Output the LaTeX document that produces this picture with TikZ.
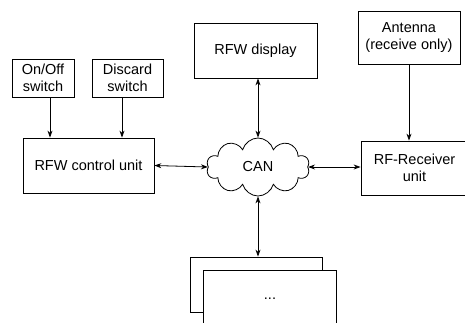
\documentclass[tikz,border=0pt]{standalone}
\usepackage{fontspec}
\setmainfont{Liberation Sans}
\usepackage{tikz}
\usetikzlibrary{shapes,arrows.meta,positioning}

\begin{document}
\begin{tikzpicture}[
    x=1pt, y=-1pt,
    font=\fontsize{14.5}{16.5}\selectfont,
    box/.style={draw, line width=0.8pt, align=center, text centered, inner sep=2pt},
    arrow/.style={line width=0.8pt,->,>={Stealth[length=7pt,width=5pt]}},
    biarrow/.style={line width=0.8pt,<->,>={Stealth[length=7pt,width=5pt]}}
]
\useasboundingbox (0,0) rectangle (465,322);
\clip (0,0) rectangle (465,322);

\node (onoff) [box, minimum width=62pt, minimum height=38pt] at (43,78) {On/Off\\switch};
\node (discard) [box, minimum width=71pt, minimum height=38pt] at (127.5,78) {Discard\\switch};
\node (control) [box, minimum width=131pt, minimum height=55pt] at (88.5,165.5) {RFW control unit};
\node (display) [box, minimum width=123pt, minimum height=55pt] at (255.5,50.5) {RFW display};
\node (antenna) [box, minimum width=102pt, minimum height=53pt] at (409,37.5) {Antenna\\(receive only)};
\node (receiver) [box, minimum width=107pt, minimum height=54pt] at (414.5,168) {RF-Receiver\\unit};
\node (can) [draw, line width=0.8pt, cloud, cloud puffs=10, cloud ignores aspect,
    minimum width=103pt, minimum height=58pt] at (258,167) {CAN};
\node (back) [box, minimum width=132pt, minimum height=55pt] at (256,284.5) {};
\node (front) [box, fill=white, minimum width=133pt, minimum height=56pt] at ([shift={(14,14)}]back) {...};

\draw [arrow] ([xshift=7pt]onoff.south) -- ([xshift=7pt]onoff.south |- control.north);
\draw [arrow] ([xshift=-5.5pt]discard.south) -- ([xshift=-5.5pt]discard.south |- control.north);
\draw [arrow] (antenna.south) -- (antenna.south |- receiver.north);

\draw [biarrow] (control.east) -- (can.west);
\draw [biarrow] (can.east) -- (can.east -| receiver.west);
\draw [biarrow] (can.north |- display.south) -- (can.north);
\draw [biarrow] (can.south) -- (can.south |- back.north);

\end{tikzpicture}
\end{document}
